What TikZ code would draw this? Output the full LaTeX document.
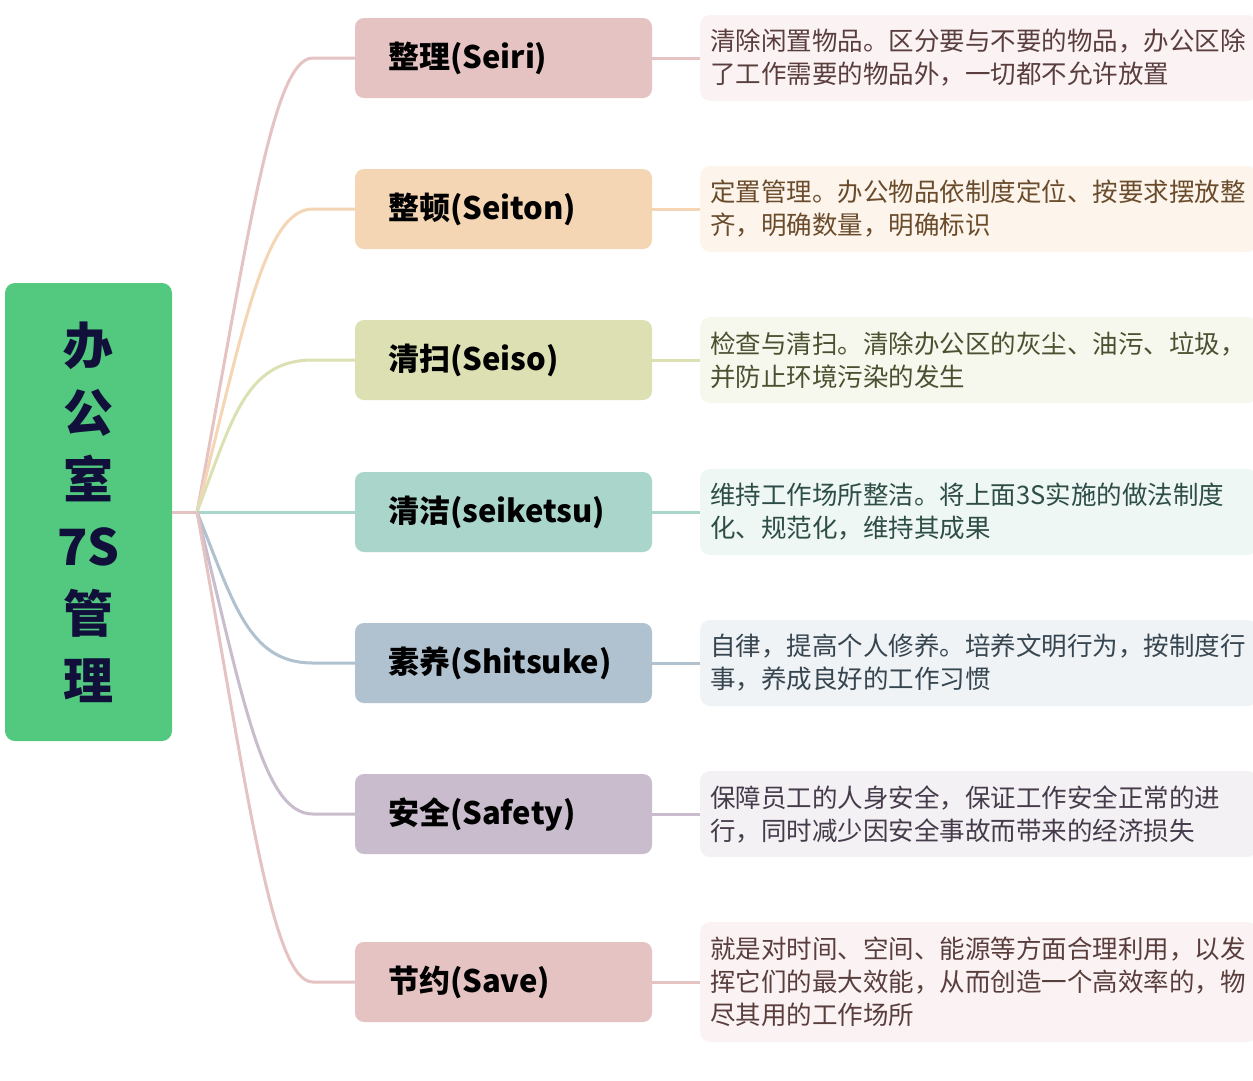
\documentclass[tikz,border=0pt]{standalone}
\usepackage{fontspec}
\setmainfont{Noto Sans CJK SC}
\usetikzlibrary{calc}
\definecolor{rootc}{HTML}{52C97E}
\definecolor{roottext}{HTML}{10103A}
\definecolor{fa}{HTML}{E6C3C3}\definecolor{da}{HTML}{FBF3F3}\definecolor{ta}{HTML}{5A3E3E}
\definecolor{fb}{HTML}{F4D6B4}\definecolor{db}{HTML}{FDF5EC}\definecolor{tb}{HTML}{6A4B2C}
\definecolor{fc}{HTML}{DCE0B2}\definecolor{dc}{HTML}{F6F8EE}\definecolor{tc}{HTML}{4B5030}
\definecolor{fd}{HTML}{A9D5CB}\definecolor{dd}{HTML}{EEF7F4}\definecolor{td}{HTML}{2E4D46}
\definecolor{fe}{HTML}{B0C1CF}\definecolor{de}{HTML}{EFF3F6}\definecolor{te}{HTML}{36454F}
\definecolor{ff}{HTML}{C8BCCD}\definecolor{df}{HTML}{F3F1F4}\definecolor{tf}{HTML}{463B4B}
\begin{document}
\begin{tikzpicture}[x=1pt,y=-1pt,
  rootbox/.style={fill=rootc, rounded corners=10pt, minimum width=167pt, minimum height=458pt,
    inner sep=0pt, text=roottext, align=center, font=\fontsize{50}{67}\selectfont\bfseries},
  brbox/.style={fill=#1, rounded corners=9pt, minimum height=80pt, text width=231pt,
    inner xsep=33pt, inner ysep=0pt, align=left, text=black, font=\fontsize{31}{36}\selectfont\bfseries},
  descbox/.style n args={2}{fill=#1, text=#2, anchor=west, rounded corners=10pt, text width=537pt,
    inner xsep=10pt, inner ysep=0pt, minimum height=86pt, align=left,
    font=\fontsize{25.5}{33}\selectfont},
  conn/.style={draw=#1, line width=3pt}
]
\useasboundingbox (0,0) rectangle (1253,1080);
\fill[white] (0,0) rectangle (1253,1080);

% root
\node[rootbox] (root) at (88.5,512) {办\\公\\室\\7S\\管\\理};
\coordinate (fork) at (197,512);

% branches
\node[brbox=fa] (b1) at (503.5,58)  {整理(Seiri)};
\node[brbox=fb] (b2) at (503.5,209) {整顿(Seiton)};
\node[brbox=fc] (b3) at (503.5,360) {清扫(Seiso)};
\node[brbox=fd] (b4) at (503.5,512) {清洁(seiketsu)};
\node[brbox=fe] (b5) at (503.5,663) {素养(Shitsuke)};
\node[brbox=ff] (b6) at (503.5,814) {安全(Safety)};
\node[brbox=fa] (b7) at (503.5,982) {节约(Save)};

% descriptions
\node[descbox={da}{ta}] (d1) at (700,58) {清除闲置物品。区分要与不要的物品，办公区除\\了工作需要的物品外，一切都不允许放置};
\node[descbox={db}{tb}] (d2) at (700,209) {定置管理。办公物品依制度定位、按要求摆放整\\齐，明确数量，明确标识};
\node[descbox={dc}{tc}] (d3) at (700,360) {检查与清扫。清除办公区的灰尘、油污、垃圾，\\并防止环境污染的发生};
\node[descbox={dd}{td}] (d4) at (700,512) {维持工作场所整洁。将上面3S实施的做法制度\\化、规范化，维持其成果};
\node[descbox={de}{te}] (d5) at (700,663) {自律，提高个人修养。培养文明行为，按制度行\\事，养成良好的工作习惯};
\node[descbox={df}{tf}] (d6) at (700,814) {保障员工的人身安全，保证工作安全正常的进\\行，同时减少因安全事故而带来的经济损失};
\node[descbox={da}{ta}, minimum height=120pt] (d7) at (700,982) {就是对时间、空间、能源等方面合理利用，以发\\挥它们的最大效能，从而创造一个高效率的，物\\尽其用的工作场所};

% corners for curves
\coordinate (k1) at (282,58);
\coordinate (k2) at (274,209);
\coordinate (k3) at (255,360);
\coordinate (k5) at (258,663);
\coordinate (k6) at (272,814);
\coordinate (k7) at (282,982);

% connectors root -> branches
\draw[conn=fa] (root.east) -- (fork);
\draw[conn=fa] (fork) .. controls ($(fork)!0.6!(k1)$) and ($(k1)+(-10,0)$) .. ($(b1.west)+(-42,0)$) -- (b1.west);
\draw[conn=fb] (fork) .. controls ($(fork)!0.6!(k2)$) and ($(k2)+(-10,0)$) .. ($(b2.west)+(-42,0)$) -- (b2.west);
\draw[conn=fc] (fork) .. controls ($(fork)!0.6!(k3)$) and ($(k3)+(-10,0)$) .. ($(b3.west)+(-42,0)$) -- (b3.west);
\draw[conn=fd] (fork) -- (b4.west);
\draw[conn=fe] (fork) .. controls ($(fork)!0.6!(k5)$) and ($(k5)+(-10,0)$) .. ($(b5.west)+(-42,0)$) -- (b5.west);
\draw[conn=ff] (fork) .. controls ($(fork)!0.6!(k6)$) and ($(k6)+(-10,0)$) .. ($(b6.west)+(-42,0)$) -- (b6.west);
\draw[conn=fa] (fork) .. controls ($(fork)!0.6!(k7)$) and ($(k7)+(-10,0)$) .. ($(b7.west)+(-42,0)$) -- (b7.west);

% connectors branches -> descriptions
\draw[conn=fa] (b1.east) -- (d1.west);
\draw[conn=fb] (b2.east) -- (d2.west);
\draw[conn=fc] (b3.east) -- (d3.west);
\draw[conn=fd] (b4.east) -- (d4.west);
\draw[conn=fe] (b5.east) -- (d5.west);
\draw[conn=ff] (b6.east) -- (d6.west);
\draw[conn=fa] (b7.east) -- (d7.west);
\end{tikzpicture}
\end{document}
